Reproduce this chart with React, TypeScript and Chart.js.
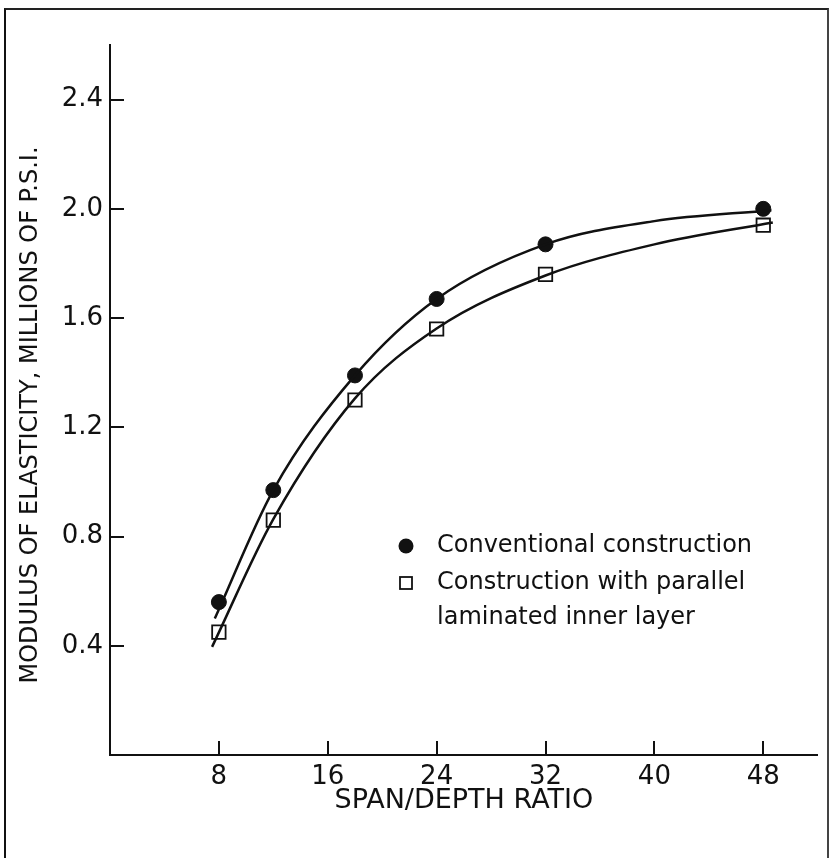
import React, { useEffect, useRef } from "react";
import { Chart, registerables } from "chart.js";

Chart.register(...registerables);

// Measured points
const spanDepth = [8, 12, 18, 24, 32, 48];
const conventional = [0.56, 0.97, 1.39, 1.67, 1.87, 2.0];
const laminated = [0.45, 0.86, 1.3, 1.56, 1.76, 1.94];

// Fitted curves
const conventionalCurveX = [7.7, 12, 18, 24, 32, 40, 48.6];
const conventionalCurveY = [0.5, 0.97, 1.39, 1.67, 1.87, 1.955, 1.995];
const laminatedCurveX = [7.5, 12, 18, 24, 32, 40, 48.7];
const laminatedCurveY = [0.396, 0.864, 1.306, 1.562, 1.756, 1.87, 1.95];

// Axes
const xTicks = [8, 16, 24, 32, 40, 48];
const yTicks = [0.4, 0.8, 1.2, 1.6, 2.0, 2.4];
const xTitle = "SPAN/DEPTH RATIO";
const yTitle = "MODULUS OF ELASTICITY, MILLIONS OF P.S.I.";
const legendConventional = ["Conventional construction"];
const legendLaminated = ["Construction with parallel", "laminated inner layer"];

const FONT = "'DejaVu Sans', 'Liberation Sans', sans-serif";
const INK = "#111";

const decor = {
  id: "decor",
  afterDraw(chart: any) {
    const { ctx, chartArea, scales } = chart;
    const xs = scales.x;
    const ys = scales.y;
    ctx.save();
    ctx.strokeStyle = INK;
    ctx.lineWidth = 2;
    ctx.beginPath();
    xs.ticks.forEach((t: any) => {
      const px = Math.round(xs.getPixelForValue(t.value));
      ctx.moveTo(px, chartArea.bottom);
      ctx.lineTo(px, chartArea.bottom - 14);
    });
    ys.ticks.forEach((t: any) => {
      const py = Math.round(ys.getPixelForValue(t.value));
      ctx.moveTo(chartArea.left, py);
      ctx.lineTo(chartArea.left + 14, py);
    });
    ctx.stroke();

    // y-axis title (rotated)
    ctx.save();
    ctx.fillStyle = INK;
    ctx.font = `24px ${FONT}`;
    ctx.textAlign = "center";
    ctx.textBaseline = "middle";
    ctx.translate(31, chartArea.top + 370);
    ctx.rotate(-Math.PI / 2);
    ctx.fillText(yTitle, 0, 0);
    ctx.restore();

    // legend inside the plot
    const mx = chartArea.left + 296;
    const tx = chartArea.left + 327;
    const r1 = chartArea.top + 501;
    const r2 = chartArea.top + 538;
    const lh = 35;
    ctx.fillStyle = INK;
    ctx.beginPath();
    ctx.arc(mx, r1, 7.5, 0, Math.PI * 2);
    ctx.fill();
    ctx.lineWidth = 1.8;
    ctx.strokeRect(mx - 6, r2 - 6, 12, 12);
    ctx.font = `24px ${FONT}`;
    ctx.textBaseline = "middle";
    ctx.textAlign = "left";
    legendConventional.forEach((s, i) => ctx.fillText(s, tx, r1 + i * lh));
    legendLaminated.forEach((s, i) => ctx.fillText(s, tx, r2 + i * lh));
    ctx.restore();
  },
};

export default function App() {
  const ref = useRef<HTMLCanvasElement>(null);

  useEffect(() => {
    const pts = (xs: number[], ys: number[]) => xs.map((x, i) => ({ x, y: ys[i] }));
    const chart = new Chart(ref.current as HTMLCanvasElement, {
      type: "scatter",
      data: {
        datasets: [
          {
            label: "Conventional construction (curve)",
            type: "line",
            data: pts(conventionalCurveX, conventionalCurveY),
            borderColor: INK,
            borderWidth: 2.5,
            pointRadius: 0,
            showLine: true,
            cubicInterpolationMode: "monotone",
            fill: false,
          },
          {
            label: "Construction with parallel laminated inner layer (curve)",
            type: "line",
            data: pts(laminatedCurveX, laminatedCurveY),
            borderColor: INK,
            borderWidth: 2.5,
            pointRadius: 0,
            showLine: true,
            cubicInterpolationMode: "monotone",
            fill: false,
          },
          {
            label: "Conventional construction",
            data: pts(spanDepth, conventional),
            pointStyle: "circle",
            pointRadius: 7.5,
            backgroundColor: INK,
            borderColor: INK,
            borderWidth: 1,
            showLine: false,
          },
          {
            label: "Construction with parallel laminated inner layer",
            data: pts(spanDepth, laminated),
            pointStyle: "rect",
            pointRadius: 9.5,
            backgroundColor: "rgba(255,255,255,0)",
            borderColor: INK,
            borderWidth: 1.8,
            showLine: false,
          },
        ],
      },
      options: {
        responsive: false,
        devicePixelRatio: 1,
        animation: false,
        layout: { padding: { left: 0, top: 45, right: 8, bottom: 0 } },
        plugins: {
          legend: { display: false },
          tooltip: { enabled: false },
        },
        scales: {
          x: {
            type: "linear",
            position: "bottom",
            min: 0,
            max: 52,
            grid: { display: false, drawTicks: false },
            border: { display: true, color: INK, width: 2 },
            ticks: {
              font: { family: FONT, size: 26 },
              color: INK,
              padding: 7,
              autoSkip: false,
              maxRotation: 0,
              callback: (v: any) => String(v),
            },
            title: {
              display: true,
              text: xTitle,
              font: { family: FONT, size: 27 },
              color: INK,
              padding: { top: 0, bottom: 41 },
            },
            afterBuildTicks: (s: any) => {
              s.ticks = xTicks.map((v) => ({ value: v }));
            },
            afterFit: (s: any) => {
              s.height = 103;
            },
          },
          y: {
            type: "linear",
            position: "left",
            min: 0,
            max: 2.6,
            grid: { display: false, drawTicks: false },
            border: { display: true, color: INK, width: 2 },
            ticks: {
              font: { family: FONT, size: 26 },
              color: INK,
              padding: 7,
              autoSkip: false,
              callback: (v: any) => Number(v).toFixed(1),
            },
            title: { display: false, text: yTitle },
            afterBuildTicks: (s: any) => {
              s.ticks = yTicks.map((v) => ({ value: v }));
            },
            afterFit: (s: any) => {
              s.width = 110;
            },
          },
        },
      },
      plugins: [decor],
    });
    return () => chart.destroy();
  }, []);

  return (
    <div
      style={{
        position: "absolute",
        left: 0,
        top: 0,
        width: 829,
        height: 858,
        background: "#fff",
        overflow: "hidden",
      }}
    >
      <div
        style={{
          position: "absolute",
          left: 4,
          top: 8,
          width: 825,
          height: 850,
          boxSizing: "border-box",
          borderLeft: "2px solid #111",
          borderTop: "2px solid #222",
          borderRight: "2px solid #444",
        }}
      />
      <canvas
        ref={ref}
        width={829}
        height={858}
        style={{ position: "absolute", left: 0, top: 0, width: 829, height: 858 }}
      />
    </div>
  );
}
